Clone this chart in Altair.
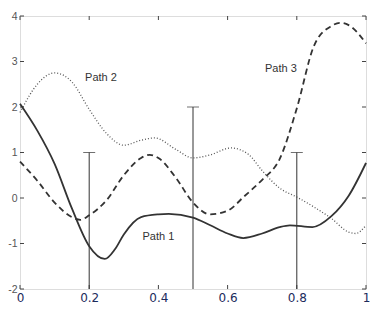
import altair as alt
import pandas as pd

# Path 1 (solid)
p1_x = [0, 0.05, 0.1, 0.15, 0.2, 0.245, 0.275, 0.3, 0.35, 0.4, 0.43, 0.5, 0.55, 0.6, 0.645, 0.7, 0.75, 0.78, 0.845, 0.9, 0.95, 1.0]
p1_y = [2.07, 1.48, 0.75, -0.23, -1.06, -1.34, -1.12, -0.8, -0.42, -0.36, -0.35, -0.43, -0.6, -0.78, -0.88, -0.78, -0.64, -0.6, -0.64, -0.4, 0.05, 0.77]

# Path 2 (dotted)
p2_x = [0, 0.05, 0.1, 0.15, 0.2, 0.25, 0.3, 0.35, 0.39, 0.45, 0.5, 0.55, 0.61, 0.66, 0.7, 0.75, 0.8, 0.85, 0.9, 0.95, 0.97, 1.0]
p2_y = [1.88, 2.5, 2.75, 2.55, 1.95, 1.42, 1.16, 1.27, 1.32, 1.07, 0.88, 0.95, 1.10, 0.96, 0.6, 0.22, 0.02, -0.2, -0.45, -0.75, -0.78, -0.6]

# Path 3 (dashed)
p3_x = [0, 0.05, 0.1, 0.15, 0.175, 0.2, 0.25, 0.3, 0.35, 0.375, 0.4, 0.45, 0.5, 0.55, 0.6, 0.65, 0.7, 0.75, 0.8, 0.85, 0.9, 0.925, 0.95, 1.0]
p3_y = [0.80, 0.38, -0.1, -0.42, -0.48, -0.38, -0.05, 0.5, 0.88, 0.95, 0.88, 0.45, -0.1, -0.36, -0.28, 0.05, 0.4, 0.85, 1.97, 3.35, 3.78, 3.85, 3.8, 3.4]

# Vertical bars with caps
bar_x = [0.2, 0.5, 0.8]
bar_top = [1, 2, 1]
bar_bottom = [-2, -2, -2]

# Labels
lab_text = ["Path 1", "Path 2", "Path 3"]
lab_x = [0.4, 0.234, 0.754]
lab_y = [-0.86, 2.63, 2.83]

x_ticks = [0, 0.2, 0.4, 0.6, 0.8, 1.0]
y_ticks = [-2, -1, 0, 1, 2, 3, 4]

W, H = 346, 273

xs = alt.Scale(domain=[0, 1], nice=False, zero=False)
ys = alt.Scale(domain=[-2, 4], nice=False, zero=False)

xax = alt.Axis(values=x_ticks, format="~g", ticks=False, domain=False, grid=False,
               labelFont="DejaVu Sans", labelFontSize=12, labelColor="#1c2b5c",
               labelPadding=3, title=None, labelFlush=False)
yax = alt.Axis(values=y_ticks, ticks=False, domain=False, grid=False,
               labelExpr="'' + datum.value",
               labelFont="Liberation Sans", labelFontSize=10.5, labelColor="#555555",
               labelPadding=3, title=None, labelFlush=False)

d1 = pd.DataFrame({"x": p1_x, "y": p1_y})
d2 = pd.DataFrame({"x": p2_x, "y": p2_y})
d3 = pd.DataFrame({"x": p3_x, "y": p3_y})
bars = pd.DataFrame({"x": bar_x, "top": bar_top, "bottom": bar_bottom})
labs = pd.DataFrame({"t": lab_text, "x": lab_x, "y": lab_y})
xt = pd.DataFrame({"x": x_ticks})
yt = pd.DataFrame({"y": y_ticks})

base_axes = alt.Chart(xt).mark_rule(opacity=0).encode(
    x=alt.X("x:Q", scale=xs, axis=xax),
    y=alt.value(0),
)
base_yaxis = alt.Chart(yt).mark_rule(opacity=0).encode(
    y=alt.Y("y:Q", scale=ys, axis=yax),
    x=alt.value(0),
)

line1 = alt.Chart(d1).mark_line(interpolate="monotone", color="#333333", strokeWidth=1.8).encode(
    x=alt.X("x:Q", scale=xs), y=alt.Y("y:Q", scale=ys))
line2 = alt.Chart(d2).mark_line(interpolate="monotone", color="#555555", strokeWidth=1.3, strokeDash=[1, 2]).encode(
    x=alt.X("x:Q", scale=xs), y=alt.Y("y:Q", scale=ys))
line3 = alt.Chart(d3).mark_line(interpolate="monotone", color="#333333", strokeWidth=1.8, strokeDash=[6, 4]).encode(
    x=alt.X("x:Q", scale=xs), y=alt.Y("y:Q", scale=ys))

vbars = alt.Chart(bars).mark_rule(color="#333333", strokeWidth=1).encode(
    x=alt.X("x:Q", scale=xs), y=alt.Y("bottom:Q", scale=ys), y2="top:Q")
caps = alt.Chart(bars).mark_tick(color="#333333", orient="horizontal", size=12, thickness=1).encode(
    x=alt.X("x:Q", scale=xs), y=alt.Y("top:Q", scale=ys))

texts = alt.Chart(labs).mark_text(font="Liberation Sans", fontSize=11, color="#333333").encode(
    x=alt.X("x:Q", scale=xs), y=alt.Y("y:Q", scale=ys), text="t:N")

tick_b = alt.Chart(xt).mark_rule(color="#444444").encode(
    x=alt.X("x:Q", scale=xs), y=alt.value(H), y2=alt.value(H - 4))
tick_t = alt.Chart(xt).mark_rule(color="#444444").encode(
    x=alt.X("x:Q", scale=xs), y=alt.value(0), y2=alt.value(4))
tick_l = alt.Chart(yt).mark_rule(color="#444444").encode(
    y=alt.Y("y:Q", scale=ys), x=alt.value(0), x2=alt.value(4))
tick_r = alt.Chart(yt).mark_rule(color="#444444").encode(
    y=alt.Y("y:Q", scale=ys), x=alt.value(W), x2=alt.value(W - 4))

chart = alt.layer(
    base_axes, base_yaxis, tick_b, tick_t, tick_l, tick_r,
    vbars, caps, line2, line3, line1, texts
).properties(
    width=W, height=H,
    autosize=alt.AutoSizeParams(type="none"),
    padding={"left": 12, "top": 8, "right": 5, "bottom": 30},
).configure_view(stroke="#444444", strokeWidth=1).configure(background="white")

chart.save("out.html", embed_options={"renderer": "svg", "actions": False})
